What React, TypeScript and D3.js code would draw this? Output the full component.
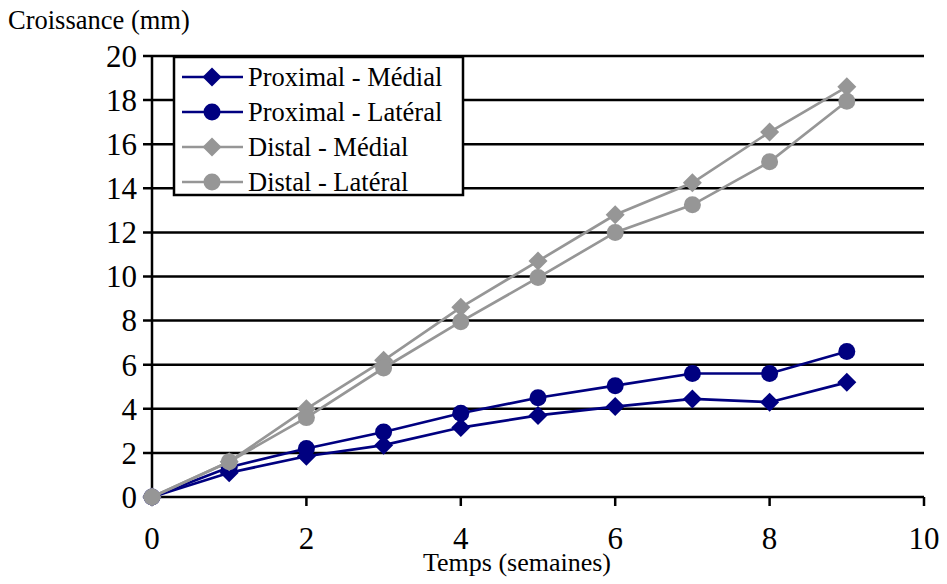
import * as d3 from "d3";

const weeks = [0, 1, 2, 3, 4, 5, 6, 7, 8, 9];
const proxMedial = [0, 1.1, 1.85, 2.35, 3.15, 3.7, 4.1, 4.45, 4.3, 5.2];
const proxLateral = [0, 1.35, 2.2, 2.95, 3.8, 4.5, 5.05, 5.6, 5.6, 6.6];
const distMedial = [0, 1.6, 4.0, 6.2, 8.6, 10.7, 12.8, 14.25, 16.55, 18.6];
const distLateral = [0, 1.6, 3.6, 5.85, 7.95, 9.95, 12.0, 13.25, 15.2, 17.95];

const seriesNames = ["Proximal - Médial", "Proximal - Latéral", "Distal - Médial", "Distal - Latéral"];
const seriesValues = [proxMedial, proxLateral, distMedial, distLateral];
const seriesColors = ["#000080", "#000080", "#969696", "#969696"];
const seriesShapes = ["diamond", "circle", "diamond", "circle"];

const xTicks = [0, 2, 4, 6, 8, 10];
const yTicks = [0, 2, 4, 6, 8, 10, 12, 14, 16, 18, 20];

const width = 947;
const height = 584;
const plot = { left: 152, right: 924, top: 56, bottom: 497 };
const serif = { fontFamily: "Liberation Serif" };

const x = d3.scaleLinear().domain([0, 10]).range([plot.left, plot.right]);
const y = d3.scaleLinear().domain([0, 20]).range([plot.bottom, plot.top]);

function Marker({ shape, cx, cy, color }: { shape: string; cx: number; cy: number; color: string }) {
  if (shape === "circle") return <circle cx={cx} cy={cy} r={8.5} fill={color} />;
  const s = 9.5;
  return <path d={`M${cx},${cy - s}L${cx + s},${cy}L${cx},${cy + s}L${cx - s},${cy}Z`} fill={color} />;
}

export default function App() {
  const line = d3
    .line<number>()
    .x((_, i) => x(weeks[i]))
    .y((d) => y(d));

  const legend = { x: 174, y: 57, w: 289, h: 138, row: 35 };

  return (
    <svg
      width={width}
      height={height}
      style={{ position: "absolute", left: 0, top: 0, display: "block", background: "#fff" }}
    >
      <text x={8} y={29} fontSize={26.5} style={serif}>
        Croissance (mm)
      </text>

      {yTicks.map((t) => (
        <g key={t}>
          <line x1={plot.left - 9} x2={plot.right} y1={y(t)} y2={y(t)} stroke="#000" strokeWidth={2.5} />
          <text x={137} y={y(t)} dy="0.35em" textAnchor="end" fontSize={31} style={serif}>
            {t}
          </text>
        </g>
      ))}
      <line x1={plot.left} x2={plot.left} y1={plot.top} y2={plot.bottom} stroke="#000" strokeWidth={2.5} />

      {xTicks.map((t) => (
        <g key={t}>
          <line x1={x(t)} x2={x(t)} y1={plot.bottom} y2={plot.bottom + 9} stroke="#000" strokeWidth={2.5} />
          <text x={x(t)} y={549} textAnchor="middle" fontSize={31} style={serif}>
            {t}
          </text>
        </g>
      ))}
      <text x={517} y={571} textAnchor="middle" fontSize={26} style={serif}>
        Temps (semaines)
      </text>

      {seriesValues.map((vals, si) => (
        <g key={seriesNames[si]}>
          <path d={line(vals) ?? ""} fill="none" stroke={seriesColors[si]} strokeWidth={2.7} />
          {vals.map((v, i) => (
            <Marker key={i} shape={seriesShapes[si]} cx={x(weeks[i])} cy={y(v)} color={seriesColors[si]} />
          ))}
        </g>
      ))}

      <rect x={legend.x} y={legend.y} width={legend.w} height={legend.h} fill="#fff" stroke="#000" strokeWidth={2.5} />
      {seriesNames.map((name, i) => {
        const cy = legend.y + 20 + i * legend.row;
        return (
          <g key={name}>
            <line x1={182} x2={243} y1={cy} y2={cy} stroke={seriesColors[i]} strokeWidth={2.7} />
            <Marker shape={seriesShapes[i]} cx={212} cy={cy} color={seriesColors[i]} />
            <text x={248} y={cy} dy="0.33em" fontSize={26.5} style={serif}>
              {name}
            </text>
          </g>
        );
      })}
    </svg>
  );
}
